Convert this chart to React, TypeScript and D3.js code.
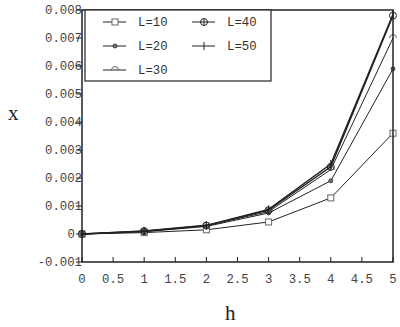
import React from "react";
import * as d3 from "d3";

const hValues = [0, 1, 2, 3, 4, 5];
const seriesNames = ["L=10", "L=20", "L=30", "L=40", "L=50"];
const seriesL10 = [0, 0.00005, 0.00015, 0.00043, 0.00129, 0.0036];
const seriesL20 = [0, 0.00008, 0.00027, 0.00075, 0.0019, 0.0059];
const seriesL30 = [0, 0.0001, 0.0003, 0.0008, 0.0023, 0.007];
const seriesL40 = [0, 0.0001, 0.0003, 0.00085, 0.0024, 0.0078];
const seriesL50 = [0, 0.00011, 0.00031, 0.00088, 0.0025, 0.00785];
const yTicks = [-0.001, 0, 0.001, 0.002, 0.003, 0.004, 0.005, 0.006, 0.007, 0.008];
const xTicks = [0, 0.5, 1, 1.5, 2, 2.5, 3, 3.5, 4, 4.5, 5];

const allSeries = [seriesL10, seriesL20, seriesL30, seriesL40, seriesL50];
const ink = "#222";
const mono = "'Liberation Mono', 'DejaVu Sans Mono', monospace";

function Marker({ kind, x, y }: { kind: number; x: number; y: number }) {
  if (kind === 0)
    return <rect x={x - 3} y={y - 3} width={6} height={6} fill="white" stroke="#666" strokeWidth={1} />;
  if (kind === 1)
    return <circle cx={x} cy={y} r={2} fill="#777" stroke={ink} strokeWidth={0.8} />;
  if (kind === 2)
    return <path d={`M${x - 3.5},${y} A3.5,3.5 0 0 1 ${x + 3.5},${y}`} fill="none" stroke="#666" strokeWidth={1} />;
  if (kind === 3)
    return (
      <g stroke={ink} strokeWidth={1} fill="none">
        <circle cx={x} cy={y} r={3.5} />
        <line x1={x} x2={x} y1={y - 3.5} y2={y + 3.5} />
      </g>
    );
  return <line x1={x} x2={x} y1={y - 4} y2={y + 4} stroke={ink} strokeWidth={1} />;
}

export default function App() {
  const width = 400;
  const height = 327;
  const margin = { top: 10, right: 7, bottom: 65, left: 82 };
  const innerW = width - margin.left - margin.right;
  const innerH = height - margin.top - margin.bottom;

  const x = d3.scaleLinear().domain([0, 5]).range([0, innerW]);
  const y = d3.scaleLinear().domain([-0.001, 0.008]).range([innerH, 0]);
  const line = d3
    .line<number>()
    .x((_, i) => x(hValues[i]))
    .y((d) => y(d));

  const fmt = (v: number) => (Math.abs(v) < 1e-12 ? "0" : String(+v.toFixed(3)));

  return (
    <svg width={width} height={height} style={{ position: "absolute", left: 0, top: 0 }}>
      <g transform={`translate(${margin.left},${margin.top})`}>
        {yTicks.map((t) => (
          <g key={t} transform={`translate(0,${y(t)})`}>
            <text
              x={Math.abs(t) < 1e-12 ? -7 : 0}
              dy="0.35em"
              textAnchor="end"
              fontFamily={mono}
              fontSize={12.3}
              fill="#444"
            >
              {fmt(t)}
            </text>
            <line x1={-6} x2={0} stroke={ink} />
          </g>
        ))}
        {xTicks.map((t) => (
          <g key={t} transform={`translate(${x(t)},${innerH})`}>
            <line y1={0} y2={-5} stroke={ink} />
            <text y={21} textAnchor="middle" fontFamily={mono} fontSize={12.3} fill="#444">
              {String(t)}
            </text>
          </g>
        ))}
        {allSeries.map((s, k) => (
          <g key={k}>
            <path d={line(s) || ""} fill="none" stroke={ink} strokeWidth={k >= 3 ? 1.4 : 1} />
            {s.map((v, i) => (
              <Marker key={i} kind={k} x={x(hValues[i])} y={y(v)} />
            ))}
          </g>
        ))}
        <rect x={0} y={0} width={innerW} height={innerH} fill="none" stroke={ink} strokeWidth={1.5} />
        <g transform="translate(3,0)">
          <rect x={0} y={0} width={186} height={71} fill="white" stroke={ink} strokeWidth={1.2} />
          {seriesNames.map((name, k) => {
            const col = k < 3 ? 0 : 1;
            const row = k < 3 ? k : k - 3;
            const lx = 18 + col * 89;
            const ly = 12 + row * 24;
            return (
              <g key={name}>
                <line x1={lx} x2={lx + 23} y1={ly} y2={ly} stroke={ink} />
                <Marker kind={k} x={lx + 12} y={ly} />
                <text x={lx + 35} y={ly} dy="0.35em" fontFamily={mono} fontSize={12.3} fill="#333">
                  {name}
                </text>
              </g>
            );
          })}
        </g>
      </g>
      <text x={8} y={120} fontFamily="'Liberation Serif', serif" fontSize={21} fill="#222">
        x
      </text>
      <text x={225} y={320} fontFamily="'Liberation Serif', serif" fontSize={21} fill="#222">
        h
      </text>
    </svg>
  );
}
